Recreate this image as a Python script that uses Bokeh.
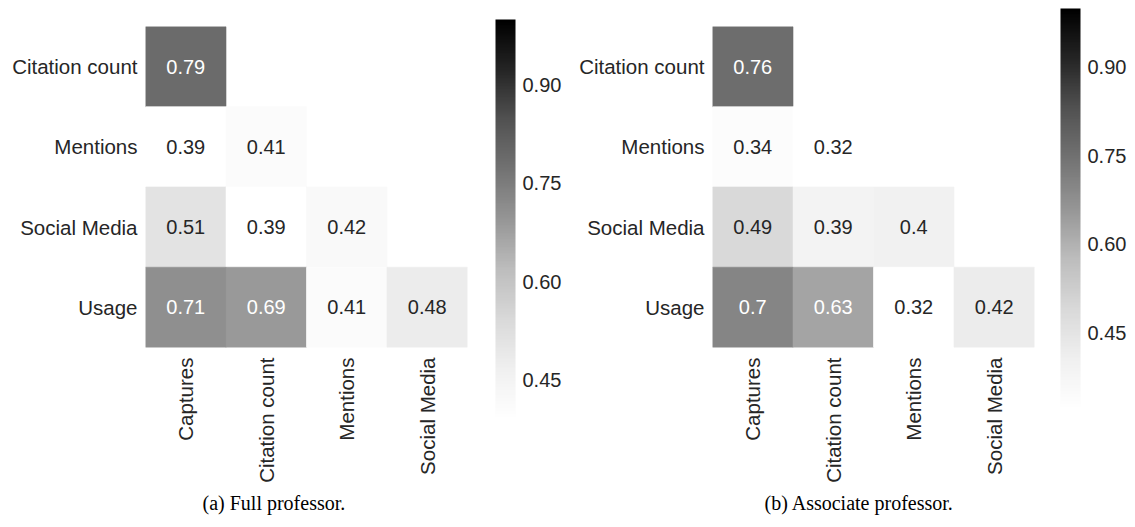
import math
from bokeh.plotting import figure
from bokeh.models import (FactorRange, LinearColorMapper, ColorBar, FixedTicker,
                          PrintfTickFormatter, Title, ColumnDataSource)
from bokeh.transform import transform
from bokeh.layouts import row
from bokeh.embed import file_html
from bokeh.resources import INLINE
from bokeh.core.properties import value

# ---------------- data ----------------
rows = ["Citation count", "Mentions", "Social Media", "Usage"]
cols = ["Captures", "Citation count", "Mentions", "Social Media"]

# lower triangle, one list per row (row i has i+1 values, columns in order)
full_vals = [[0.79],
             [0.39, 0.41],
             [0.51, 0.39, 0.42],
             [0.71, 0.69, 0.41, 0.48]]
assoc_vals = [[0.76],
              [0.34, 0.32],
              [0.49, 0.39, 0.40],
              [0.70, 0.63, 0.32, 0.42]]
full_range = [0.39, 1.0]
assoc_range = [0.32, 1.0]
cbar_ticks = [0.45, 0.60, 0.75, 0.90]
captions = ["(a) Full professor.", "(b) Associate professor."]

# ---------------- palette (ColorBrewer Greys, light -> dark) ----------------
greys9 = ["#ffffff", "#f0f0f0", "#d9d9d9", "#bdbdbd", "#969696",
          "#737373", "#525252", "#252525", "#000000"]


def interp(pal, n):
    rgb = [tuple(int(c[i:i + 2], 16) for i in (1, 3, 5)) for c in pal]
    out = []
    for k in range(n):
        t = k / (n - 1) * (len(rgb) - 1)
        i = min(int(t), len(rgb) - 2)
        f = t - i
        c = [round(rgb[i][j] + (rgb[i + 1][j] - rgb[i][j]) * f) for j in range(3)]
        out.append("#%02x%02x%02x" % tuple(c))
    return out


pal = interp(greys9, 256)
FONT = "Liberation Sans"
TXT = "#262626"
H = 511
FH = 321
TOP = 26


def panel(vals, rng, caption, ml, mr, cap_off, cb_loc, cb_h):
    low, high = rng
    mapper = LinearColorMapper(palette=pal, low=low, high=high)
    xs, ys, vs, labs, tcs = [], [], [], [], []
    for i, r in enumerate(rows):
        for j, v in enumerate(vals[i]):
            xs.append(cols[j])
            ys.append(r)
            vs.append(v)
            labs.append(f"{v:.2g}")
            t = (v - low) / (high - low)
            tcs.append("#ffffff" if t > 0.4 else TXT)
    src = ColumnDataSource(dict(x=xs, y=ys, v=vs, lab=labs, tc=tcs))
    p = figure(x_range=FactorRange(factors=cols),
               y_range=FactorRange(factors=list(reversed(rows))),
               frame_width=322, frame_height=FH,
               min_border_left=ml, min_border_right=mr,
               min_border_top=TOP, min_border_bottom=H - TOP - FH,
               toolbar_location=None, output_backend="svg",
               outline_line_color=None, title=None)
    p.rect(x="x", y="y", width=1, height=1, source=src,
           fill_color=transform("v", mapper),
           line_color=transform("v", mapper), line_width=0.6)
    p.text(x="x", y="y", text="lab", source=src, text_color="tc",
           text_align="center", text_baseline="middle",
           text_font=value(FONT), text_font_size="20px")
    p.grid.visible = False
    for ax in (p.xaxis[0], p.yaxis[0]):
        ax.axis_line_color = None
        ax.major_tick_line_color = None
        ax.minor_tick_line_color = None
        ax.major_tick_out = 0
        ax.major_tick_in = 0
        ax.major_label_text_font = FONT
        ax.major_label_text_font_size = "20.5px"
        ax.major_label_text_color = TXT
    p.yaxis.major_label_standoff = 8
    p.xaxis.major_label_standoff = 10
    p.xaxis.major_label_orientation = math.pi / 2
    t = Title(text=caption, align="left", offset=cap_off,
              text_font="Liberation Serif", text_font_size="20px",
              text_font_style="normal", text_color="#000000", standoff=8)
    p.add_layout(t, "below")
    cb = ColorBar(color_mapper=mapper, ticker=FixedTicker(ticks=cbar_ticks),
                  formatter=PrintfTickFormatter(format="%.2f"),
                  location=cb_loc, width=20, height=cb_h,
                  padding=0, margin=0, label_standoff=7,
                  major_tick_line_color=None, minor_tick_line_color=None,
                  bar_line_color=None, border_line_color=None,
                  background_fill_alpha=0,
                  major_label_text_font=FONT, major_label_text_font_size="20px",
                  major_label_text_color=TXT)
    p.add_layout(cb, "center")
    return p


pA = panel(full_vals, full_range, captions[0], 145, 103, 57, (350, -72), 400)
pC = panel(assoc_vals, assoc_range, captions[1], 142, 100, 52, (348, -62), 401)

layout = row(pA, pC)
open("out.html", "w").write(file_html(layout, INLINE))
